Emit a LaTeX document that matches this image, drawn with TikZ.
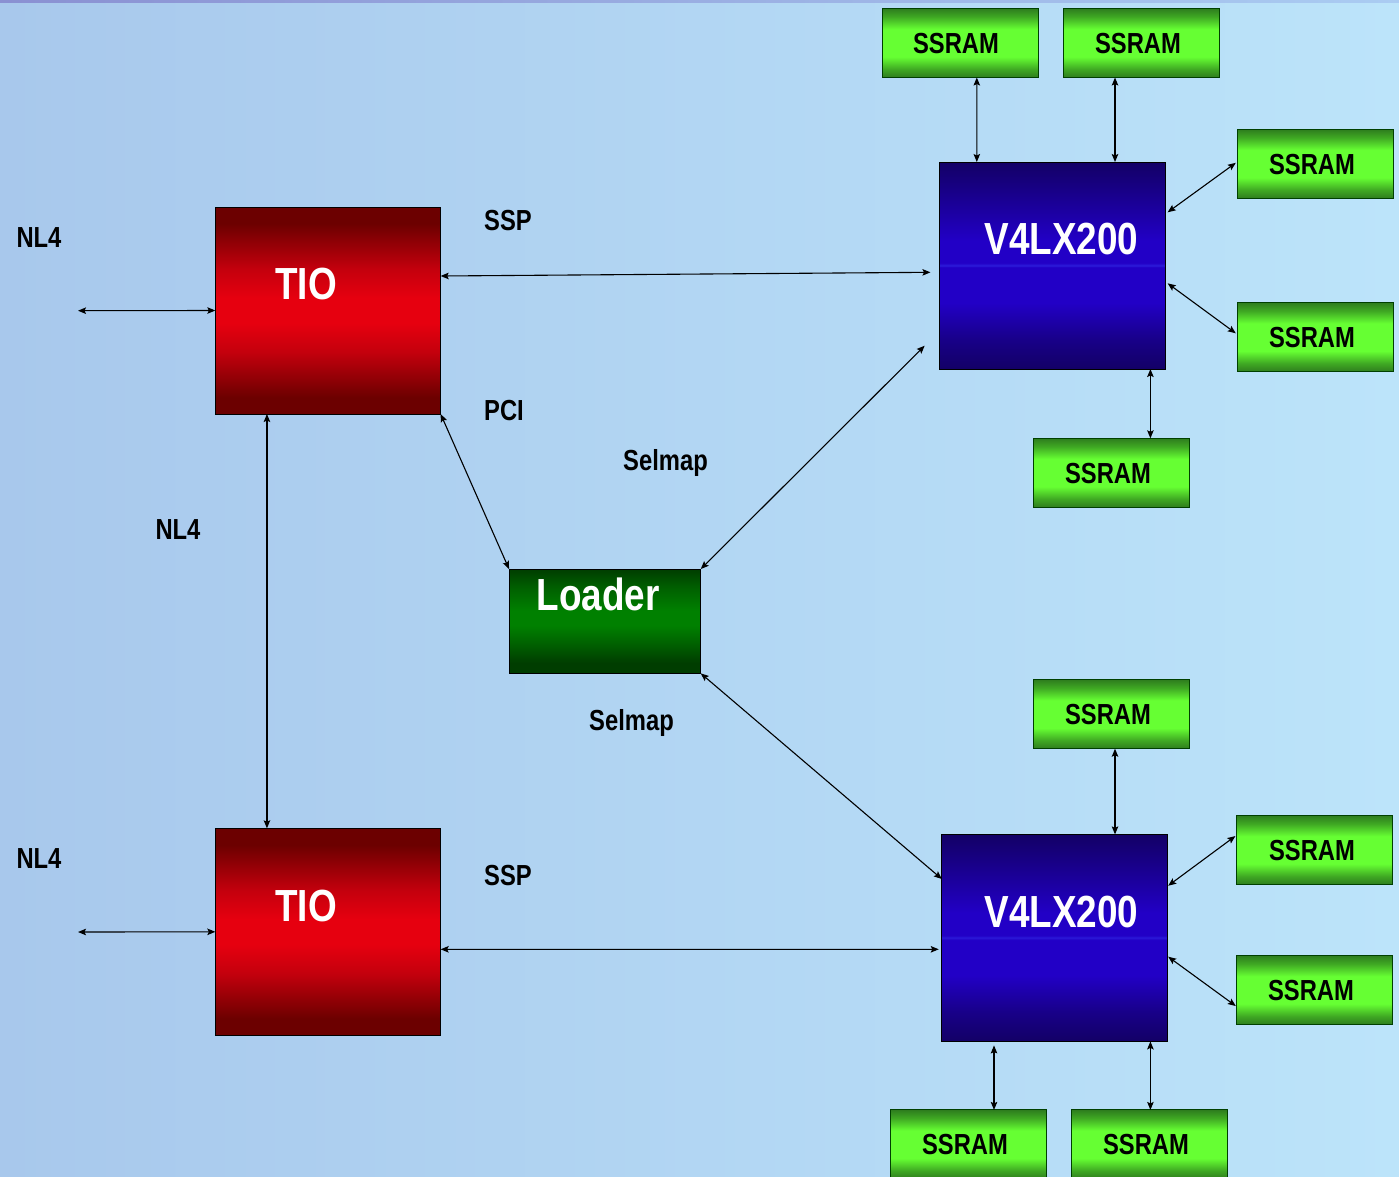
\documentclass[tikz,border=0pt]{standalone}
\usepackage{fontspec}
\setmainfont{Liberation Sans}[FakeStretch=0.82]
\usetikzlibrary{arrows.meta,calc}
\definecolor{bgl}{HTML}{A8C8EC}
\definecolor{bgr}{HTML}{BCE4FA}
\definecolor{topl}{HTML}{8A90D2}
\definecolor{topr}{HTML}{AACCF2}
\definecolor{rdk}{HTML}{6C0000}
\definecolor{rmd}{HTML}{C4000D}
\definecolor{rbr}{HTML}{E6000F}
\definecolor{bdk}{HTML}{130066}
\definecolor{bmd}{HTML}{180088}
\definecolor{bbr}{HTML}{2200C6}
\definecolor{bband}{HTML}{2C1CDA}
\definecolor{gdk}{HTML}{003D00}
\definecolor{gmd}{HTML}{006000}
\definecolor{gbr}{HTML}{008000}
\definecolor{sdk}{HTML}{2E7D1E}
\definecolor{smd}{HTML}{3FA823}
\definecolor{sbr}{HTML}{66FF33}
\pgfdeclareverticalshading{redshade}{100bp}{color(0bp)=(rdk); color(25bp)=(rdk); color(29bp)=(rdk); color(40bp)=(rmd); color(47bp)=(rbr); color(53bp)=(rbr); color(60bp)=(rmd); color(71bp)=(rdk); color(100bp)=(rdk)}
\pgfdeclareverticalshading{blueshade}{100bp}{color(0bp)=(bdk); color(25bp)=(bdk); color(32bp)=(bmd); color(41bp)=(bbr); color(49.6bp)=(bbr); color(50bp)=(bband); color(50.6bp)=(bbr); color(56bp)=(bbr); color(68bp)=(bmd); color(75bp)=(bdk); color(100bp)=(bdk)}
\pgfdeclareverticalshading{loadshade}{100bp}{color(0bp)=(gdk); color(25bp)=(gdk); color(30bp)=(gdk); color(39bp)=(gmd); color(48bp)=(gbr); color(55bp)=(gbr); color(66bp)=(gmd); color(75bp)=(gdk); color(100bp)=(gdk)}
\pgfdeclareverticalshading{ramshade}{100bp}{color(0bp)=(sdk); color(25bp)=(sdk); color(31bp)=(smd); color(40bp)=(sbr); color(60bp)=(sbr); color(69bp)=(smd); color(75bp)=(sdk); color(100bp)=(sdk)}
\newcommand\mySmallFont{\bfseries\fontsize{29pt}{34pt}\selectfont}
\newcommand\myBigFont{\bfseries\fontsize{45pt}{52pt}\selectfont}
\begin{document}
\begin{tikzpicture}[x=1pt,y=-1pt,
  chip/.style={draw=black, line width=1pt, inner sep=0pt, outer sep=0pt, minimum width=225.3pt, minimum height=207pt},
  tiobox/.style={chip, shading=redshade},
  fpgabox/.style={chip, shading=blueshade},
  ldbox/.style={draw=black, line width=1pt, inner sep=0pt, outer sep=0pt, shading=loadshade, minimum width=191.7pt, minimum height=104.3pt},
  ram/.style={draw=black!75!green, line width=1pt, inner sep=0pt, outer sep=0pt, shading=ramshade, minimum width=156pt, minimum height=69pt, font=\mySmallFont, text height=20.8pt, text depth=0pt},
  ramtxt/.style={font=\mySmallFont, anchor=base, inner sep=0pt},
  bigtxt/.style={text=white, font=\myBigFont, anchor=base, inner sep=0pt},
  lbl/.style={font=\mySmallFont, anchor=base, inner sep=0pt},
  con/.style={line width=1.1pt, arrows={Stealth[length=8pt,width=6.5pt,inset=1.5pt]-Stealth[length=8pt,width=6.5pt,inset=1.5pt]}}
]
\useasboundingbox (0,0) rectangle (1399,1176);
\shade[left color=bgl, right color=bgr] (0,0) rectangle (1399,1176);
\shade[left color=topl, right color=topr] (0,0) rectangle (1399,2.5);

% main blocks
\node[tiobox] (tio1) at (328,310.5) {};
\node[tiobox] (tio2) at (328,931.8) {};
\node[fpgabox] (v1) at (1052.4,265.5) {};
\node[fpgabox] (v2) at (1054.5,937.9) {};
\node[ldbox] (loader) at (604.9,621.2) {};

\node[bigtxt] (tio1t) at (306,299) {TIO};
\node[bigtxt] (tio2t) at (306,921) {TIO};
\node[bigtxt] (v1t) at (1061.5,254) {V4LX200};
\node[bigtxt] (v2t) at (1061.5,927) {V4LX200};
\node[bigtxt] (loadert) at (598,610) {Loader};

% SSRAMs
\node[ram] (s1) at (960.5,43) {};
\node[ram] (s2) at (1141.5,43) {};
\node[ram] (s3) at (1315.2,163.8) {};
\node[ram] (s4) at (1315.2,337.2) {};
\node[ram] (s5) at (1111,472.8) {};
\node[ram] (s6) at (1111,714.2) {};
\node[ram] (s7) at (1314.8,850) {};
\node[ram] (s8) at (1314.5,990) {};
\node[ram] (s9) at (968,1144.4) {};
\node[ram] (s10) at (1149.2,1144.4) {};
\node[ramtxt] (s1t) at (956,53) {SSRAM};
\node[ramtxt] (s2t) at (1138,53) {SSRAM};
\node[ramtxt] (s3t) at (1312,174) {SSRAM};
\node[ramtxt] (s4t) at (1312,347) {SSRAM};
\node[ramtxt] (s5t) at (1108,483) {SSRAM};
\node[ramtxt] (s6t) at (1108,724.5) {SSRAM};
\node[ramtxt] (s7t) at (1312,860) {SSRAM};
\node[ramtxt] (s8t) at (1311,1000) {SSRAM};
\node[ramtxt] (s9t) at (965,1154) {SSRAM};
\node[ramtxt] (s10t) at (1146,1154) {SSRAM};

% labels
\node[lbl] (nl4a) at (39,247) {NL4};
\node[lbl] (nl4b) at (178,539.5) {NL4};
\node[lbl] (nl4c) at (39,868) {NL4};
\node[lbl] (ssp1) at (508,230) {SSP};
\node[lbl] (ssp2) at (508,885) {SSP};
\node[lbl] (pci) at (504,420) {PCI};
\node[lbl] (sel1) at (665.5,470.5) {Selmap};
\node[lbl] (sel2) at (631.5,730.5) {Selmap};

% free ends
\coordinate (ext1) at (78,310.7);
\coordinate (ext2) at (78,932);

% connectors
\draw[con] (ext1) -- (tio1.west);
\draw[con] (ext2) -- (tio2.west);
\draw[con] ([xshift=51.6pt]tio1.south west) -- ([xshift=51.6pt]tio2.north west);
\draw[con] ([yshift=34.5pt]tio1.east) -- ([xshift=-9.3pt,yshift=-6.8pt]v1.west);
\draw[con] ([yshift=-17.5pt]tio2.east) -- ([xshift=-3.1pt,yshift=-11.4pt]v2.west);
\draw[con] (tio1.south east) -- (loader.north west);
\draw[con] (loader.north east) -- ([xshift=-15.1pt,yshift=23.3pt]v1.south west);
\draw[con] (loader.south east) -- ([yshift=58.9pt]v2.west);

\draw[con] ([xshift=16.3pt]s1.south) -- ([xshift=-75.6pt]v1.north);
\draw[con] ([xshift=-26.5pt]s2.south) -- ([xshift=62.6pt]v1.north);
\draw[con] ([xshift=-1.4pt,yshift=1pt]s3.west) -- ([xshift=2.6pt,yshift=53.2pt]v1.east);
\draw[con] ([xshift=-1.4pt,yshift=3.9pt]s4.west) -- ([xshift=2.6pt,yshift=-17.8pt]v1.east);
\draw[con] ([xshift=98pt]v1.south) -- ([xshift=39.4pt]s5.north);

\draw[con] ([xshift=4pt]s6.south) -- ([xshift=60.5pt]v2.north);
\draw[con] ([xshift=-1.4pt,yshift=14pt]s7.west) -- ([xshift=1pt,yshift=52.2pt]v2.east);
\draw[con] ([xshift=-0.7pt,yshift=-16pt]s8.west) -- ([xshift=1pt,yshift=-18.8pt]v2.east);
\draw[con] ([xshift=-60.5pt,yshift=-4pt]v2.south) -- ([xshift=26pt]s9.north);
\draw[con] ([xshift=95.9pt]v2.south) -- ([xshift=1.2pt]s10.north);
\end{tikzpicture}
\end{document}
